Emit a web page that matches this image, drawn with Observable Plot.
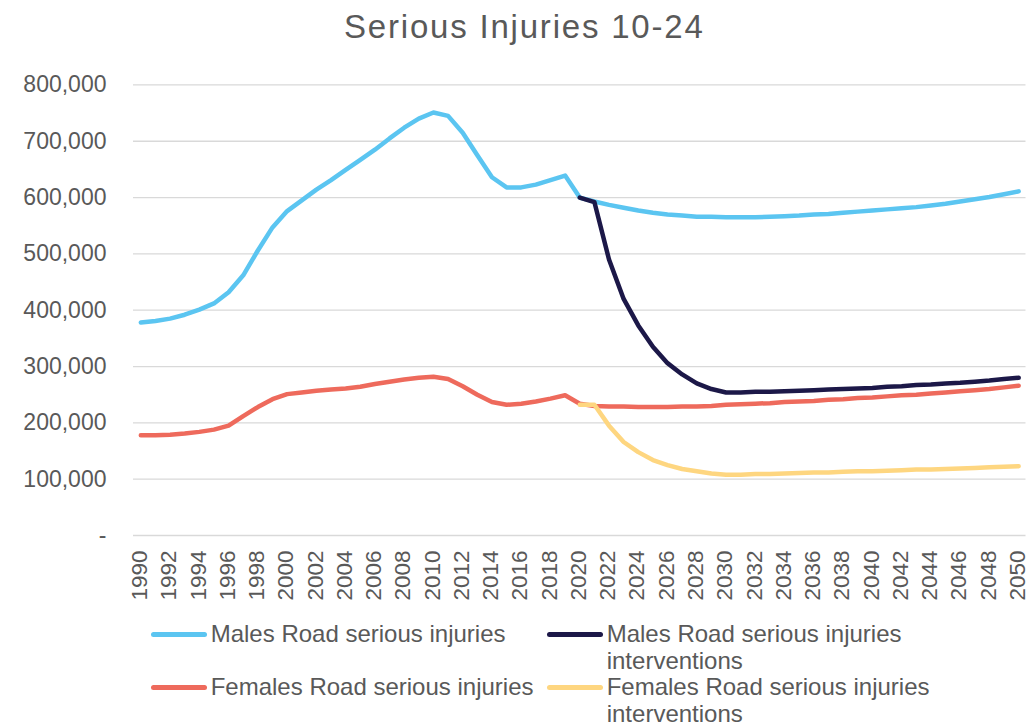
<!DOCTYPE html>
<html>
<head>
<meta charset="utf-8">
<script src="https://cdn.jsdelivr.net/npm/d3@7"></script>
<script src="https://cdn.jsdelivr.net/npm/@observablehq/plot@0.6"></script>
<style>
  html, body { margin: 0; padding: 0; background: #fff; }
  #wrap { position: relative; width: 1029px; height: 726px; overflow: hidden; font-family: "Liberation Sans", Arial, sans-serif; color: #595959; }
  #title { position: absolute; left: 344px; top: 9.5px; font-size: 33px; line-height: 33px; letter-spacing: 1.8px; white-space: nowrap; }
  #chart { position: absolute; left: 0; top: 60px; }
  .lg-sw { position: absolute; width: 56px; height: 5px; border-radius: 2.5px; }
  .lg-tx { position: absolute; font-size: 24px; line-height: 26.65px; width: 400px; white-space: normal; }
</style>
</head>
<body>
<div id="wrap">
  <div id="title"></div>
  <div id="chart"></div>
  <div id="legend"></div>
</div>
<script>
const chartTitle = "Serious Injuries 10-24";

const years = [
  1990,1991,1992,1993,1994,1995,1996,1997,1998,1999,
  2000,2001,2002,2003,2004,2005,2006,2007,2008,2009,
  2010,2011,2012,2013,2014,2015,2016,2017,2018,2019,
  2020,2021,2022,2023,2024,2025,2026,2027,2028,2029,
  2030,2031,2032,2033,2034,2035,2036,2037,2038,2039,
  2040,2041,2042,2043,2044,2045,2046,2047,2048,2049,
  2050
];

const malesRoad = [
  378000,381000,385000,392000,401000,412000,432000,462000,506000,547000,
  576000,595000,614000,631000,649000,667000,685000,705000,724000,740000,
  751000,745000,715000,675000,636000,618000,618000,623000,631000,639000,
  600000,593000,587000,582000,577000,573000,570000,568000,566000,566000,
  565000,565000,565000,566000,567000,568000,570000,571000,573000,575000,
  577000,579000,581000,583000,586000,589000,593000,597000,601000,606000,
  611000
];

const malesRoadInterventions = [
  null,null,null,null,null,null,null,null,null,null,
  null,null,null,null,null,null,null,null,null,null,
  null,null,null,null,null,null,null,null,null,null,
  600000,592000,490000,420000,373000,335000,306000,286000,270000,260000,
  254000,254000,255000,255000,256000,257000,258000,259000,260000,261000,
  262000,264000,265000,267000,268000,270000,271000,273000,275000,278000,
  280000
];

const femalesRoad = [
  178000,178000,179000,181000,184000,188000,195000,212000,228000,242000,
  251000,254000,257000,259000,261000,264000,269000,273000,277000,280000,
  282000,278000,265000,250000,237000,232000,234000,238000,243000,249000,
  234000,230000,229000,229000,228000,228000,228000,229000,229000,230000,
  232000,233000,234000,235000,237000,238000,239000,241000,242000,244000,
  245000,247000,249000,250000,252000,254000,256000,258000,260000,263000,
  266000
];

const femalesRoadInterventions = [
  null,null,null,null,null,null,null,null,null,null,
  null,null,null,null,null,null,null,null,null,null,
  null,null,null,null,null,null,null,null,null,null,
  232000,232000,195000,166000,148000,134000,125000,118000,114000,110000,
  108000,108000,109000,109000,110000,111000,112000,112000,113000,114000,
  114000,115000,116000,117000,117000,118000,119000,120000,121000,122000,
  123000
];

const seriesNames = [
  "Males Road serious injuries",
  "Males Road serious injuries interventions",
  "Females Road serious injuries",
  "Females Road serious injuries interventions"
];
const seriesColors = ["#5BC5F1", "#1C1848", "#EE6A5C", "#FED680"];

const xTickYears = [
  1990,1992,1994,1996,1998,2000,2002,2004,2006,2008,
  2010,2012,2014,2016,2018,2020,2022,2024,2026,2028,
  2030,2032,2034,2036,2038,2040,2042,2044,2046,2048,2050
];
const yTickValues = [0,100000,200000,300000,400000,500000,600000,700000,800000];
const yTickLabels = ["-","100,000","200,000","300,000","400,000","500,000","600,000","700,000","800,000"];

// build tidy tables
const seriesValues = [malesRoad, malesRoadInterventions, femalesRoad, femalesRoadInterventions];
const tables = seriesValues.map((vals, s) =>
  years.map((yr, i) => ({year: yr, value: vals[i], series: seriesNames[s]}))
       .filter(d => d.value !== null)
);

document.getElementById("title").textContent = chartTitle;

const chart = Plot.plot({
  width: 1029,
  height: 550,
  marginTop: 24.4,
  marginBottom: 75,
  marginLeft: 133,
  marginRight: 3.5,
  style: {fontFamily: "'Liberation Sans', Arial, sans-serif", fontSize: "23px", color: "#595959", background: "transparent", overflow: "visible"},
  x: {domain: [1989.5, 2050.5]},
  y: {domain: [0, 800000]},
  marks: [
    Plot.gridY(yTickValues, {stroke: "#d9d9d9", strokeOpacity: 1, strokeWidth: 1.3}),
    Plot.axisY({ticks: yTickValues, tickFormat: d => yTickLabels[yTickValues.indexOf(d)], tickSize: 0, tickPadding: 27, label: null, fontSize: 23, fill: "#595959"}),
    Plot.axisX({ticks: xTickYears, tickFormat: d => String(d), tickRotate: -90, textAnchor: "end", tickSize: 0, tickPadding: 15, dx: -1, label: null, fontSize: 22.5, fill: "#595959"}),
    ...tables.map((t, s) => Plot.line(t, {x: "year", y: "value", stroke: seriesColors[s], strokeWidth: 4.5, strokeLinejoin: "round", strokeLinecap: "round"}))
  ]
});
document.getElementById("chart").appendChild(chart);

// legend
const legend = document.getElementById("legend");
const lgPos = [
  {sw: 150.7, tx: 210.7, top: 621.1},
  {sw: 547.3, tx: 606.7, top: 621.1},
  {sw: 150.7, tx: 210.7, top: 674.4},
  {sw: 547.3, tx: 606.7, top: 674.4}
];
seriesNames.forEach((name, s) => {
  const p = lgPos[s];
  const sw = document.createElement("div");
  sw.className = "lg-sw";
  sw.style.left = p.sw + "px";
  sw.style.top = (p.top + 10.7) + "px";
  sw.style.background = seriesColors[s];
  legend.appendChild(sw);
  const tx = document.createElement("div");
  tx.className = "lg-tx";
  tx.style.left = p.tx + "px";
  tx.style.top = p.top + "px";
  tx.textContent = name;
  legend.appendChild(tx);
});
</script>
</body>
</html>
